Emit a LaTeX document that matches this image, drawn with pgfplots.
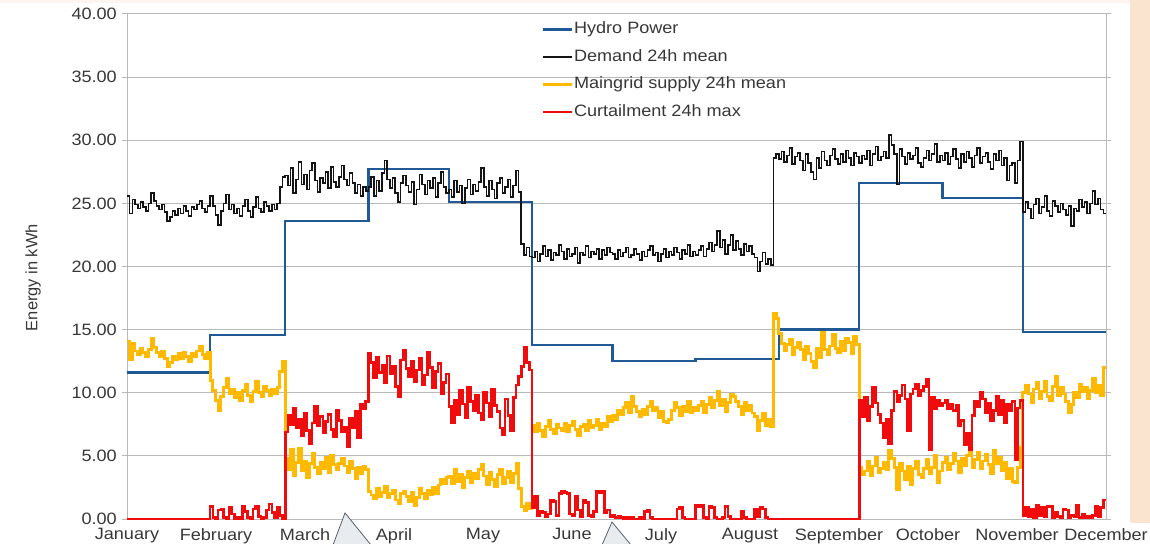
\documentclass[border=0pt]{standalone}
\usepackage{pgfplots}
\pgfplotsset{compat=1.18}
\usepackage{pgfplotstable}
\usepackage{fontspec}
\setmainfont{Liberation Sans}[FakeStretch=1.1]
\newfontfamily\labelfont{Liberation Sans}

\definecolor{hydro}{RGB}{31,89,150}
\definecolor{demand}{RGB}{20,20,20}
\definecolor{maingrid}{RGB}{255,186,0}
\definecolor{curtail}{RGB}{240,12,12}
\definecolor{gridgray}{RGB}{185,185,185}
\definecolor{textgray}{RGB}{55,55,55}
\definecolor{peach}{RGB}{250,228,208}
\definecolor{peachlight}{RGB}{253,245,238}
\definecolor{calloutfill}{RGB}{233,236,239}
\definecolor{calloutline}{RGB}{86,96,108}

\newcommand\chartfont{\fontsize{16.5}{19}\selectfont}

% Monthly hydro power (const per month), day of year
\pgfplotstableread{
day hydro
0   11.6
31  14.6
59  23.6
90  27.7
120 25.1
151 13.8
181 12.5
212 12.65
243 15.0
273 26.6
304 25.4
334 14.8
365 14.8
}\hydrotbl

% Daily demand, 24h mean (one value per day, last value repeated)
\pgfplotstableread[row sep=\\]{
v\\
25.6\\24.2\\25.3\\24.9\\24.6\\25.1\\24.7\\24.4\\25.0\\25.8\\25.2\\24.8\\24.5\\24.9\\24.3\\23.6\\23.9\\24.4\\24.1\\24.6\\24.2\\24.8\\24.4\\24.0\\24.7\\24.5\\24.9\\25.2\\24.6\\24.3\\24.8\\
25.6\\24.8\\24.1\\23.3\\24.4\\25.0\\25.7\\24.5\\24.9\\24.2\\24.6\\24.0\\24.8\\25.3\\24.4\\23.9\\24.7\\25.5\\24.6\\24.3\\25.1\\24.8\\24.4\\24.9\\24.5\\25.0\\26.3\\27.1\\
27.2\\26.4\\27.8\\25.8\\26.9\\28.3\\26.5\\27.3\\26.1\\27.6\\28.2\\26.8\\25.9\\27.0\\26.6\\27.5\\26.2\\27.9\\26.7\\26.3\\27.1\\28.0\\26.9\\26.4\\27.4\\26.6\\25.8\\26.5\\25.6\\26.3\\26.0\\
26.3\\27.1\\25.6\\26.8\\26.0\\27.4\\28.4\\26.9\\26.2\\27.0\\25.8\\25.1\\26.6\\27.2\\26.4\\25.9\\26.7\\24.9\\26.1\\27.3\\26.5\\25.7\\26.8\\26.2\\27.0\\25.5\\26.6\\27.5\\26.3\\25.8\\
26.1\\25.5\\26.8\\25.9\\26.4\\25.0\\26.2\\26.9\\25.7\\26.5\\26.0\\26.7\\27.8\\26.3\\25.6\\26.8\\26.1\\25.4\\26.6\\27.0\\25.8\\26.3\\26.9\\25.5\\26.4\\27.6\\25.9\\21.8\\20.9\\21.5\\20.8\\
20.7\\21.2\\20.4\\21.0\\21.6\\20.8\\21.3\\20.5\\21.1\\20.9\\21.7\\21.2\\20.6\\21.4\\20.8\\21.0\\21.5\\20.3\\21.1\\20.9\\21.6\\20.7\\21.2\\21.0\\21.4\\20.6\\21.3\\20.9\\21.5\\21.1\\
21.0\\20.6\\21.3\\20.8\\21.1\\21.5\\20.7\\20.9\\21.4\\21.0\\20.5\\21.2\\20.8\\21.3\\21.6\\20.9\\21.1\\20.4\\21.0\\21.4\\20.7\\21.2\\20.9\\21.5\\21.1\\20.6\\21.3\\21.0\\21.7\\20.8\\21.2\\
20.9\\21.3\\21.6\\20.8\\21.4\\21.9\\21.2\\21.7\\22.8\\21.5\\22.1\\21.0\\21.7\\22.5\\21.3\\22.0\\21.4\\20.9\\21.8\\21.2\\21.6\\21.0\\20.7\\19.6\\20.4\\21.1\\20.2\\20.6\\20.1\\28.6\\28.9\\
28.5\\29.1\\28.3\\28.8\\29.4\\28.1\\28.7\\29.0\\28.4\\27.6\\28.9\\28.2\\27.5\\26.9\\28.6\\27.8\\29.1\\28.4\\28.0\\28.8\\29.3\\28.5\\28.1\\28.9\\28.3\\29.2\\28.6\\28.0\\29.0\\28.7\\
28.2\\28.8\\28.5\\29.2\\28.0\\28.9\\29.5\\28.4\\28.7\\29.1\\28.6\\30.4\\29.6\\28.9\\26.5\\29.3\\28.7\\28.1\\29.0\\28.5\\28.8\\29.4\\28.2\\27.9\\28.6\\29.2\\28.4\\28.9\\29.7\\28.3\\28.8\\
28.4\\29.0\\28.1\\28.7\\29.3\\28.5\\27.8\\28.9\\28.3\\29.1\\28.6\\27.9\\28.8\\29.4\\28.2\\28.7\\29.0\\28.3\\27.7\\28.9\\28.4\\29.2\\28.0\\28.6\\26.8\\28.0\\28.2\\26.6\\28.4\\29.9\\
24.3\\25.1\\24.6\\23.8\\24.9\\25.4\\24.2\\24.7\\25.6\\24.4\\24.0\\25.2\\24.8\\24.3\\25.0\\24.5\\24.1\\24.8\\23.2\\24.6\\24.4\\25.3\\24.7\\25.1\\24.2\\25.0\\26.0\\24.9\\25.4\\24.5\\24.2\\
24.2\\
}\demandtbl

% Daily maingrid supply, 24h mean
\pgfplotstableread[row sep=\\]{
v\\
14.1\\12.6\\13.9\\13.3\\13.0\\13.5\\13.2\\12.9\\13.4\\14.3\\13.6\\13.2\\12.9\\13.3\\12.7\\12.1\\12.4\\12.9\\12.6\\13.1\\12.7\\13.2\\12.9\\12.5\\13.1\\12.9\\13.3\\13.7\\13.0\\12.7\\13.2\\
11.0\\10.2\\9.4\\8.6\\9.7\\10.4\\11.1\\9.9\\10.3\\9.6\\10.0\\9.4\\10.2\\10.7\\9.8\\9.3\\10.1\\10.9\\10.0\\9.7\\10.5\\10.2\\9.8\\10.3\\9.9\\10.4\\11.7\\12.5\\
4.8\\3.9\\5.5\\3.4\\4.5\\5.6\\3.8\\4.6\\3.3\\4.4\\5.2\\4.1\\3.6\\4.5\\4.0\\4.9\\3.7\\5.0\\4.3\\3.9\\4.4\\4.8\\4.2\\3.7\\4.6\\4.0\\3.2\\4.1\\3.6\\4.2\\3.9\\
2.2\\1.9\\1.6\\2.4\\1.8\\2.1\\2.6\\1.7\\2.0\\2.3\\1.5\\1.2\\2.0\\2.2\\1.8\\1.4\\2.1\\1.1\\1.7\\2.4\\2.0\\1.6\\2.3\\1.9\\2.5\\2.0\\2.7\\3.1\\2.8\\3.3\\
3.4\\2.8\\3.9\\3.0\\3.5\\2.5\\3.3\\3.8\\2.9\\3.6\\3.2\\3.9\\4.3\\3.4\\2.7\\3.7\\3.1\\2.6\\3.5\\3.9\\2.8\\3.3\\3.8\\2.9\\3.6\\4.4\\2.4\\1.0\\0.7\\1.2\\0.8\\
7.4\\6.9\\7.6\\7.0\\6.5\\7.3\\7.8\\7.1\\6.8\\7.5\\7.2\\7.0\\7.6\\6.9\\7.4\\7.7\\7.1\\6.6\\7.3\\7.5\\7.0\\7.8\\7.2\\7.4\\7.9\\7.1\\7.6\\7.3\\8.1\\7.7\\
8.2\\7.9\\8.6\\8.3\\8.8\\9.2\\8.4\\9.7\\8.9\\8.5\\8.1\\8.7\\8.3\\8.9\\9.3\\8.6\\8.8\\8.0\\8.5\\7.7\\7.6\\7.9\\8.6\\9.2\\8.8\\8.2\\8.9\\8.5\\9.3\\8.4\\8.8\\
8.6\\9.0\\9.3\\8.4\\9.1\\9.6\\8.8\\9.4\\10.1\\9.0\\9.5\\8.5\\9.2\\9.9\\9.7\\9.3\\8.9\\8.3\\9.2\\8.6\\9.0\\8.4\\8.1\\7.0\\7.8\\8.4\\7.4\\7.9\\7.3\\16.3\\15.9\\
14.7\\13.9\\13.3\\13.8\\14.2\\13.0\\13.6\\14.0\\13.4\\12.6\\13.7\\13.1\\12.5\\12.0\\13.5\\12.8\\14.8\\13.4\\13.0\\13.7\\14.6\\13.5\\13.2\\14.1\\13.3\\14.3\\14.0\\13.1\\14.5\\13.8\\
4.1\\3.5\\3.8\\4.6\\3.4\\4.2\\4.9\\3.7\\4.0\\4.5\\3.9\\5.4\\4.8\\4.1\\2.3\\4.4\\3.8\\3.1\\4.2\\2.7\\4.0\\4.6\\3.5\\3.3\\4.0\\4.7\\3.6\\4.1\\5.0\\2.9\\3.8\\
4.5\\4.9\\3.9\\4.4\\5.2\\4.6\\3.7\\4.8\\4.2\\5.0\\5.5\\4.1\\4.7\\5.3\\4.0\\4.6\\5.1\\4.3\\3.6\\5.4\\4.4\\4.9\\3.8\\4.5\\3.2\\4.0\\3.0\\2.9\\4.1\\5.7\\
10.0\\10.6\\9.9\\9.2\\10.3\\10.8\\9.5\\10.1\\10.9\\9.7\\9.4\\10.5\\11.3\\9.8\\10.4\\9.9\\9.3\\8.4\\9.1\\10.0\\9.6\\10.7\\10.1\\10.4\\9.5\\10.2\\11.1\\10.0\\10.6\\9.8\\12.0\\
12.0\\
}\gridtbl

% Daily curtailment, 24h max
\pgfplotstableread[row sep=\\]{
v\\
0.0\\0.0\\0.0\\0.0\\0.0\\0.0\\0.0\\0.0\\0.0\\0.0\\0.0\\0.0\\0.0\\0.0\\0.0\\0.0\\0.0\\0.0\\0.0\\0.0\\0.0\\0.0\\0.0\\0.0\\0.0\\0.0\\0.0\\0.0\\0.0\\0.0\\0.0\\
1.0\\0.1\\0.0\\0.7\\0.8\\0.1\\0.0\\0.9\\0.4\\0.0\\0.1\\0.0\\1.0\\0.6\\0.1\\0.0\\0.8\\1.0\\0.2\\0.0\\0.1\\0.7\\1.2\\0.5\\0.1\\0.9\\0.3\\0.0\\
6.9\\8.2\\7.5\\8.8\\7.2\\7.9\\6.6\\8.4\\7.0\\6.0\\7.6\\8.9\\7.4\\8.1\\6.8\\7.7\\8.3\\7.1\\6.5\\8.6\\7.8\\6.9\\7.3\\5.7\\8.0\\7.2\\8.5\\6.4\\9.1\\8.7\\9.3\\
13.1\\12.4\\11.2\\12.8\\11.6\\12.2\\10.8\\12.9\\11.5\\12.1\\10.5\\9.7\\12.6\\13.4\\11.9\\11.3\\12.5\\10.9\\11.8\\12.7\\10.6\\11.4\\13.2\\12.0\\10.4\\11.7\\12.3\\9.9\\10.8\\11.5\\
8.9\\7.6\\9.4\\8.3\\10.2\\9.1\\8.0\\10.4\\9.3\\8.6\\9.8\\8.4\\7.9\\10.0\\9.2\\8.1\\10.3\\9.0\\8.5\\7.2\\6.7\\9.5\\8.2\\7.0\\9.6\\10.6\\11.3\\12.1\\13.6\\12.4\\11.8\\
0.9\\1.8\\0.3\\0.6\\0.5\\0.2\\0.4\\1.5\\1.4\\0.3\\2.0\\2.2\\2.1\\2.0\\0.4\\0.3\\1.8\\0.7\\0.2\\1.5\\1.3\\0.3\\0.2\\0.6\\2.2\\2.1\\2.2\\0.5\\0.7\\0.2\\
0.3\\0.1\\0.2\\0.1\\0.0\\0.1\\0.0\\0.1\\0.0\\0.0\\0.1\\0.0\\0.6\\0.7\\0.1\\0.0\\0.0\\0.0\\0.0\\0.0\\0.0\\0.0\\0.0\\0.0\\0.8\\0.9\\0.1\\0.0\\0.0\\0.0\\0.0\\
1.1\\1.0\\1.1\\0.1\\0.0\\1.0\\0.9\\0.1\\0.0\\0.0\\0.1\\1.0\\0.2\\0.0\\0.0\\0.0\\0.0\\0.6\\0.1\\0.0\\0.0\\0.0\\0.8\\0.2\\0.9\\0.8\\0.1\\0.0\\0.0\\0.0\\0.0\\
0.0\\0.0\\0.0\\0.0\\0.0\\0.0\\0.0\\0.0\\0.0\\0.0\\0.0\\0.0\\0.0\\0.0\\0.0\\0.0\\0.0\\0.0\\0.0\\0.0\\0.0\\0.0\\0.0\\0.0\\0.0\\0.0\\0.0\\0.0\\0.0\\0.0\\
9.4\\8.1\\9.6\\7.8\\8.9\\10.4\\9.2\\8.3\\7.6\\6.4\\7.9\\6.0\\8.6\\10.1\\9.3\\9.8\\10.6\\9.5\\7.0\\9.9\\10.3\\10.7\\9.8\\10.2\\10.5\\11.1\\5.5\\9.6\\8.7\\9.4\\9.0\\
9.2\\9.4\\8.7\\9.1\\8.6\\9.0\\7.4\\7.8\\5.9\\6.8\\5.5\\8.2\\9.3\\8.9\\10.0\\9.5\\8.4\\9.2\\7.8\\8.6\\9.7\\8.3\\9.4\\7.6\\9.1\\8.6\\9.3\\4.7\\8.8\\9.4\\
0.3\\0.9\\0.2\\0.8\\0.1\\1.1\\0.3\\0.9\\0.2\\1.0\\1.0\\0.1\\0.5\\0.2\\0.1\\0.8\\0.7\\0.1\\0.3\\0.2\\1.1\\0.1\\0.4\\0.1\\0.2\\0.1\\0.3\\1.0\\0.2\\0.9\\1.5\\
1.5\\
}\curttbl

\begin{document}
\begin{tikzpicture}
\fill[peach] (1130bp,21bp) rectangle (1150bp,544bp);
\fill[peachlight] (0bp,541bp) rectangle (1130bp,544bp);
\path[use as bounding box] (0bp,0bp) rectangle (1150bp,544bp);
\begin{axis}[
  at={(127bp,25bp)}, anchor=south west,
  scale only axis, width=979bp, height=505bp,
  xmin=0, xmax=365, ymin=0, ymax=40,
  clip=false,
  axis line style={draw=gridgray, line width=1bp},
  ymajorgrids, major grid style={draw=gridgray, line width=1bp},
  ytick={0,5,...,40},
  xtick={0,33.1818,66.3636,99.5455,132.7273,165.9091,199.0909,232.2727,265.4545,298.6364,331.8182,365},
  xticklabels={January,February,March,April,May,June,July,August,September,October,November,December},
  tick align=outside, major tick length=5bp,
  ytick style={draw=gridgray, line width=1bp},
  xtick style={draw=none},
  /pgf/number format/.cd, fixed, fixed zerofill, precision=2, assume math mode=true,
  /pgfplots/.cd,
  yticklabel style={font=\chartfont, text=textgray, inner sep=0pt, xshift=-5bp},
  xticklabel style={font=\chartfont, text=textgray, inner sep=0pt, yshift=-4bp},
  ylabel={Energy in kWh},
  ylabel style={font=\labelfont\fontsize{16.5}{19}\selectfont, text=textgray,
    at={(axis description cs:-0.096,0.478)}, anchor=center},
  legend style={at={(0.4229,0.9858)}, anchor=north west, draw=none, fill=none,
    font=\chartfont, text=textgray, inner sep=0pt, row sep=11.5bp, column sep=1bp,
    nodes={inner sep=0pt, text height=12.5bp, text depth=3.5bp}},
  legend cell align=left,
  legend image code/.code={\draw[#1] (0bp,0bp) -- (29bp,0bp);},
]
\addplot[const plot, color=hydro, line width=2.3bp] table[x=day, y=hydro] {\hydrotbl};
\addlegendentry{Hydro Power}
\addplot[const plot, color=demand, line width=1.6bp] table[x expr=\coordindex, y=v] {\demandtbl};
\addlegendentry{Demand 24h mean}
\addplot[const plot, color=maingrid, line width=2.8bp] table[x expr=\coordindex, y=v] {\gridtbl};
\addlegendentry{Maingrid supply 24h mean}
\addplot[const plot, color=curtail, line width=2.6bp] table[x expr=\coordindex, y=v] {\curttbl};
\addlegendentry{Curtailment 24h max}
\end{axis}
% callout pointers over the month labels
\filldraw[fill=calloutfill, draw=calloutline, line width=0.8bp] (333bp,-1bp) -- (345bp,31bp) -- (371bp,-1bp);
\filldraw[fill=calloutfill, draw=calloutline, line width=0.8bp] (602bp,-1bp) -- (612bp,22bp) -- (631bp,-1bp);
\end{tikzpicture}
\end{document}
